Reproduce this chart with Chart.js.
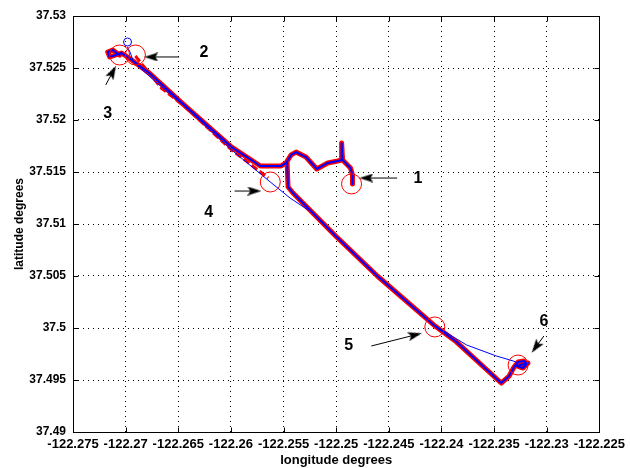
<!DOCTYPE html>
<html>
<head>
<meta charset="utf-8">
<script src="https://cdn.jsdelivr.net/npm/chart.js@4"></script>
<style>
  html,body{margin:0;padding:0;background:#fff}
  #wrap{width:630px;height:468px}
</style>
</head>
<body>
<div id="wrap"><canvas id="gps" width="630" height="468"></canvas></div>
<script>
// axis ticks
const xTicks = [-122.275,-122.27,-122.265,-122.26,-122.255,-122.25,-122.245,-122.24,-122.235,-122.23,-122.225];
const xTickLabels = ['-122.275','-122.27','-122.265','-122.26','-122.255','-122.25','-122.245','-122.24','-122.235','-122.23','-122.225'];
const yTicks = [37.49,37.495,37.5,37.505,37.51,37.515,37.52,37.525,37.53];
const yTickLabels = ['37.49','37.495','37.5','37.505','37.51','37.515','37.52','37.525','37.53'];

// outbound track: start loop -> diagonal -> wiggle -> point 1
const trackALon = [-122.27057,-122.27123,-122.27170,-122.27152,-122.27095,-122.27039,-122.26982,-122.26775,-122.26464,-122.26304,-122.25993,-122.25720,-122.25523,-122.25476,-122.25428,-122.25381,-122.25287,-122.25184,-122.25080,-122.24986,-122.24948,-122.24948,-122.24939,-122.24864,-122.24845,-122.24845];
const trackALat = [37.52625,37.52673,37.52654,37.52606,37.52625,37.52644,37.52606,37.52452,37.52163,37.52019,37.51740,37.51558,37.51558,37.51587,37.51664,37.51692,37.51644,37.51529,37.51587,37.51606,37.51615,37.51779,37.51615,37.51538,37.51471,37.51385];

// lower diagonal down to the turn and point 6
const trackBLon = [-122.25466,-122.25457,-122.25410,-122.25005,-122.24609,-122.24073,-122.23856,-122.23432,-122.23357,-122.23310,-122.23272,-122.23216,-122.23187,-122.23225,-122.23282,-122.23178];
const trackBLat = [37.51587,37.51356,37.51298,37.50885,37.50500,37.50029,37.49865,37.49471,37.49538,37.49625,37.49673,37.49683,37.49654,37.49615,37.49635,37.49664];

// thin blue raw track, top left down past point 4
const trackCLon = [-122.26982,-122.26954,-122.26926,-122.26681,-122.26445,-122.25993,-122.25626,-122.25438,-122.25268];
const trackCLat = [37.52702,37.52644,37.52558,37.52337,37.52135,37.51712,37.51404,37.51250,37.51135];

// red dashed return, point 2 to point 4
const trackDLon = [-122.26907,-122.26662,-122.26445,-122.25993,-122.25645];
const trackDLat = [37.52615,37.52308,37.52135,37.51712,37.51442];

// thin blue shortcut, point 5 to point 6
const trackELon = [-122.24073,-122.23762,-122.23479,-122.23319,-122.23272];
const trackELat = [37.50029,37.49837,37.49731,37.49683,37.49664];

// red circles
const circleLon = [-122.27057,-122.26907,-122.25626,-122.24854,-122.24063,-122.23272];
const circleLat = [37.52625,37.52625,37.51404,37.51385,37.50010,37.49644];
const startLon = [-122.26982];
const startLat = [37.52750];

// arrows 1..6
const arrowTailLon = [-122.24421,-122.26492,-122.27189,-122.25965,-122.24666,-122.23027];
const arrowTailLat = [37.51442,37.52606,37.52337,37.51317,37.49827,37.49923];
const arrowHeadLon = [-122.24713,-122.26756,-122.27123,-122.25777,-122.24251,-122.23103];
const arrowHeadLat = [37.51442,37.52606,37.52462,37.51317,37.49933,37.49817];

// numbered labels
const markText = ['1','2','3','4','5','6'];
const markLon = [-122.24223,-122.26257,-122.27170,-122.26210,-122.24882,-122.23027];
const markLat = [37.51433,37.52644,37.52058,37.51106,37.49827,37.50058];

const FONT = '"Liberation Sans", Arial, sans-serif';
const pts = (xs, ys) => xs.map((x, i) => ({x, y: ys[i]}));

// arrow head image, pointing up
const head = document.createElement('canvas');
head.width = 9; head.height = 14;
(() => {
  const c = head.getContext('2d');
  c.fillStyle = '#000';
  c.beginPath(); c.moveTo(4.5, 0); c.lineTo(0, 14); c.lineTo(4.5, 11); c.lineTo(9, 14); c.closePath(); c.fill();
})();

function arrowAngle(ctx){
  const d = ctx.dataset.data, sx = ctx.chart.scales.x, sy = ctx.chart.scales.y;
  const dx = sx.getPixelForValue(d[1].x) - sx.getPixelForValue(d[0].x);
  const dy = sy.getPixelForValue(d[1].y) - sy.getPixelForValue(d[0].y);
  return Math.atan2(dx, -dy) * 180 / Math.PI;
}

const line = (data, color, width, extra) => Object.assign({
  data, showLine: true, borderColor: color, backgroundColor: color, borderWidth: width,
  pointRadius: 0, tension: 0, borderJoinStyle: 'round', borderCapStyle: 'round'
}, extra || {});

const datasets = [];
// top first (dataset 0 drawn last)
arrowTailLon.forEach((_, i) => {
  datasets.push(line(pts([arrowTailLon[i], arrowHeadLon[i]], [arrowTailLat[i], arrowHeadLat[i]]), '#000', 1, {
    pointRadius: [0, 6], pointStyle: head, pointRotation: arrowAngle, borderCapStyle: 'butt'
  }));
});
datasets.push({data: pts(startLon, startLat), showLine: false, pointRadius: 4, pointStyle: 'circle',
  borderColor: '#0000ff', borderWidth: 1, backgroundColor: 'rgba(0,0,0,0)'});
datasets.push({data: pts(circleLon, circleLat), showLine: false, pointRadius: 10, pointStyle: 'circle',
  borderColor: '#ff0000', borderWidth: 1, backgroundColor: 'rgba(0,0,0,0)'});
datasets.push(line(pts(trackELon, trackELat), '#0000ff', 1));
datasets.push(line(pts(trackCLon, trackCLat), '#0000ff', 1));
datasets.push(line(pts(trackALon, trackALat), '#0000ff', 2));
datasets.push(line(pts(trackBLon, trackBLat), '#0000ff', 2));
datasets.push(line(pts(trackALon, trackALat), '#ff0000', 5));
datasets.push(line(pts(trackBLon, trackBLat), '#ff0000', 5));
datasets.push(line(pts(trackDLon, trackDLat), '#ff0000', 3, {borderDash: [7, 3], borderCapStyle: 'butt'}));

const framePlugin = {
  id: 'frame',
  beforeDatasetsDraw(chart){
    const {ctx, chartArea: a, scales: {x, y}} = chart;
    ctx.save();
    ctx.setLineDash([]);
    ctx.strokeStyle = '#000';
    ctx.lineWidth = 1;
    const L = Math.round(a.left) + 0.5, R = Math.round(a.right) + 0.5;
    const T = Math.round(a.top) + 0.5, B = Math.round(a.bottom) + 0.5;
    ctx.strokeRect(L, T, R - L, B - T);
    ctx.beginPath();
    xTicks.forEach(v => {
      const px = Math.round(x.getPixelForValue(v)) + 0.5;
      ctx.moveTo(px, B); ctx.lineTo(px, B - 5);
      ctx.moveTo(px, T); ctx.lineTo(px, T + 5);
    });
    yTicks.forEach(v => {
      const py = Math.round(y.getPixelForValue(v)) + 0.5;
      ctx.moveTo(L, py); ctx.lineTo(L + 5, py);
      ctx.moveTo(R, py); ctx.lineTo(R - 5, py);
    });
    ctx.stroke();
    ctx.restore();
  },
  afterDatasetsDraw(chart){
    const {ctx, scales: {x, y}} = chart;
    ctx.save();
    ctx.font = 'bold 16px ' + FONT;
    ctx.fillStyle = '#000';
    ctx.textAlign = 'center';
    ctx.textBaseline = 'middle';
    markText.forEach((t, i) => ctx.fillText(t, x.getPixelForValue(markLon[i]), y.getPixelForValue(markLat[i])));
    ctx.restore();
  }
};

new Chart(document.getElementById('gps'), {
  type: 'scatter',
  data: {datasets},
  options: {
    responsive: false,
    animation: false,
    devicePixelRatio: 1,
    layout: {padding: {top: 16, right: 26, bottom: 0, left: 0}},
    plugins: {legend: {display: false}, tooltip: {enabled: false}},
    scales: {
      x: {
        type: 'linear', min: -122.275, max: -122.225,
        afterBuildTicks: s => { s.ticks = xTicks.map(v => ({value: v})); },
        afterFit: s => { s.height = 36; },
        ticks: {autoSkip: false, maxRotation: 0, minRotation: 0, padding: 5, color: '#000',
          font: {family: FONT, size: 13, weight: 'bold'},
          callback: (v, i) => xTickLabels[i]},
        grid: {color: '#000', lineWidth: 1, drawTicks: false},
        border: {display: false, dash: [1, 4]},
        title: {display: true, text: 'longitude degrees', color: '#000',
          font: {family: FONT, size: 13, weight: 'bold'}, padding: {top: 0, bottom: 0}}
      },
      y: {
        type: 'linear', min: 37.49, max: 37.53,
        afterBuildTicks: s => { s.ticks = yTicks.map(v => ({value: v})); },
        afterFit: s => { s.width = 73; },
        ticks: {autoSkip: false, padding: 7, color: '#000',
          font: {family: FONT, size: 12, weight: 'bold'},
          callback: (v, i) => yTickLabels[i]},
        grid: {color: '#000', lineWidth: 1, drawTicks: false},
        border: {display: false, dash: [1, 4]},
        title: {display: true, text: 'latitude degrees', color: '#000',
          font: {family: FONT, size: 12, weight: 'bold'}, padding: {top: 12, bottom: 0}}
      }
    }
  },
  plugins: [framePlugin]
});
</script>
</body>
</html>
